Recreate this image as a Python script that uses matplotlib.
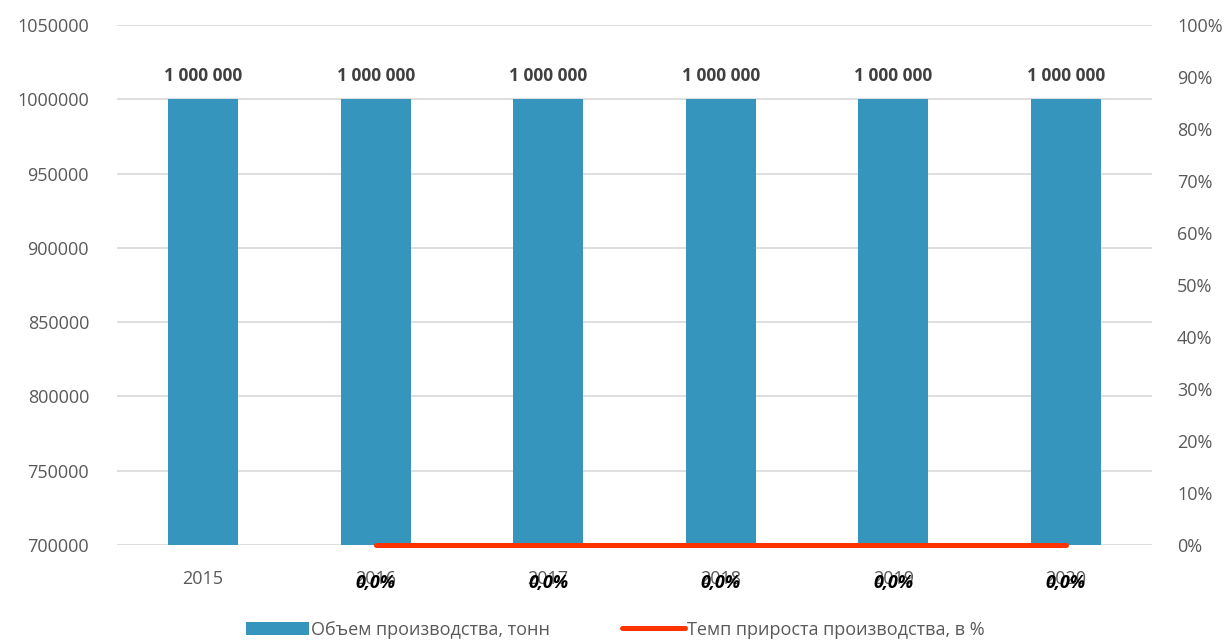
import matplotlib.pyplot as plt
from matplotlib.ticker import FuncFormatter, MultipleLocator

plt.rcParams['font.family'] = ['Open Sans', 'DejaVu Sans']

years = ['2015', '2016', '2017', '2018', '2019', '2020']
volume = [1000000, 1000000, 1000000, 1000000, 1000000, 1000000]
growth_years = ['2016', '2017', '2018', '2019', '2020']
growth = [0.0, 0.0, 0.0, 0.0, 0.0]

bar_color = '#3595BC'
line_color = '#FF3300'
text_gray = '#595959'


def main():
    fig = plt.figure(figsize=(12.3, 6.42), dpi=100)
    ax = fig.add_axes([0.095, 0.151, 0.8416, 0.81])
    ax2 = ax.twinx()

    x = list(range(len(years)))
    bars = ax.bar(x, volume, width=0.405, color=bar_color, zorder=2,
                  label='Объем производства, тонн')
    for b, v in zip(bars, volume):
        ax.annotate(f'{v:,}'.replace(',', ' '),
                    (b.get_x() + b.get_width() / 2, v),
                    xytext=(0, 10), textcoords='offset points',
                    ha='center', va='bottom', fontsize=12.5,
                    fontweight='bold', color='#404040')

    ax.set_ylim(700000, 1050000)
    ax.yaxis.set_major_locator(MultipleLocator(50000))
    ax.yaxis.set_major_formatter(FuncFormatter(lambda v, p: f'{v:.0f}'))
    ax.set_xlim(-0.5, len(years) - 0.5)
    ax.set_xticks(x)
    ax.set_xticklabels(years)
    ax.grid(axis='y', color='#D9D9D9', linewidth=1.2, zorder=0)
    ax.set_axisbelow(True)

    gx = [years.index(y) for y in growth_years]
    ax2.plot(gx, growth, color=line_color, linewidth=3.6,
             solid_capstyle='round', zorder=3, clip_on=False,
             label='Темп прироста производства, в %')
    for xi, g in zip(gx, growth):
        ax2.annotate(f'{g * 100:.1f}%'.replace('.', ','), (xi, g),
                     xytext=(0, -27), textcoords='offset points',
                     ha='center', va='center', fontsize=13,
                     fontweight='bold', fontstyle='italic', color='black',
                     annotation_clip=False)
    ax2.set_ylim(0, 1)
    ax2.yaxis.set_major_locator(MultipleLocator(0.1))
    ax2.yaxis.set_major_formatter(FuncFormatter(lambda v, p: f'{v * 100:.0f}%'))

    for a in (ax, ax2):
        for s in a.spines.values():
            s.set_visible(False)
        a.tick_params(length=0, labelsize=13, labelcolor=text_gray)
    ax.tick_params(axis='y', pad=20)
    ax.tick_params(axis='x', pad=18)
    ax2.tick_params(axis='y', pad=18)
    ax.set_zorder(1)
    ax.patch.set_visible(False)
    ax2.set_zorder(2)

    h1, l1 = ax.get_legend_handles_labels()
    h2, l2 = ax2.get_legend_handles_labels()
    fig.legend(h1 + h2, l1 + l2, loc='lower center', ncol=2,
               bbox_to_anchor=(0.5, -0.02), frameon=False, fontsize=13,
               labelcolor=text_gray, handlelength=3.5, handletextpad=0.1,
               columnspacing=4)

    fig.savefig('out.png', dpi=100)


if __name__ == "__main__":
    main()
